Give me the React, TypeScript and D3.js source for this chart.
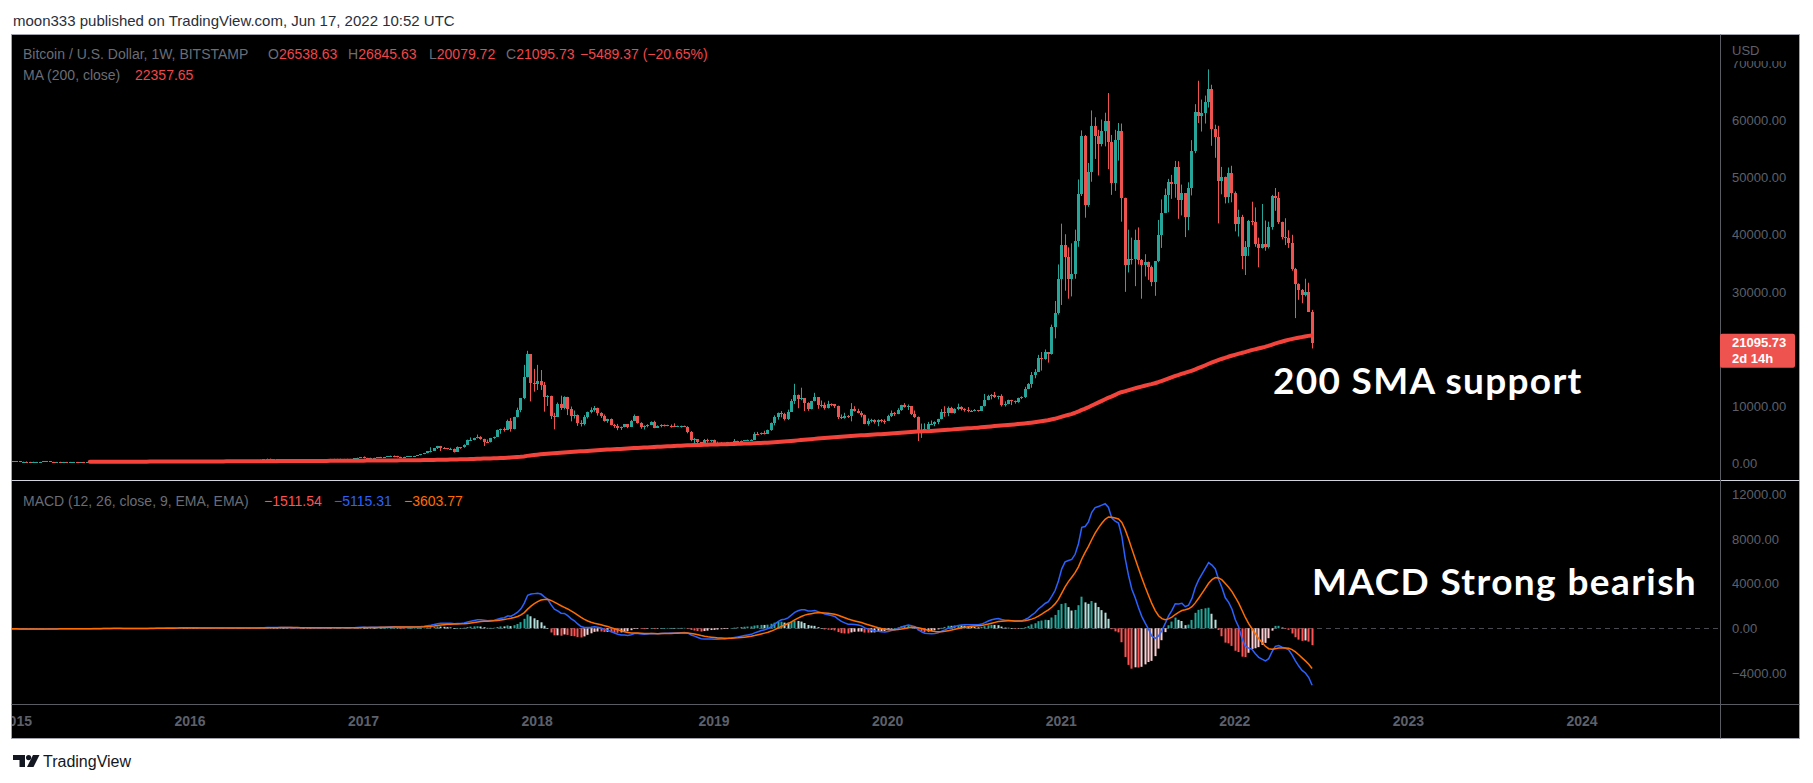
import React from 'react';
import * as d3 from 'd3';

// ---------------- DATA ----------------
// Weekly bars (Monday-start), BITSTAMP BTCUSD. First visible bar: 2014-12-22
const startDate = Date.UTC(2014, 11, 22);

// Weekly closes before the visible range (2011-08-15 .. 2014-12-15), used for MA(200) / MACD warm-up
const priorCloses = [
  // 2011
  11.0, 9.0, 8.2, 7.0, 5.9, 5.4, 5.1, 4.9, 4.1, 3.4, 3.2, 3.2, 3.0, 2.4, 2.5, 3.0, 3.0, 3.3, 3.9, 4.7,
  // 2012
  6.6, 6.6, 6.3, 5.6, 5.8, 5.7, 4.5, 4.7, 4.9, 4.9, 5.3, 4.7, 4.8, 4.9, 4.9, 5.1, 5.1, 5.0, 5.0, 5.0, 5.1, 5.2,
  5.4, 5.7, 6.3, 6.6, 6.8, 7.2, 8.8, 8.9, 9.4, 11.0, 11.8, 10.3, 10.6, 11.0, 11.7, 12.3, 12.4,
  12.1, 11.8, 11.8, 10.9, 10.8, 10.9, 11.2, 12.3, 12.5, 13.0, 13.5, 13.4, 13.4, 13.5,
  // 2013
  14.2, 17.0, 18.7, 20.4, 23.5, 26.8, 29.9, 33.5, 46, 47, 72, 93, 143, 90, 119, 128, 112,
  115, 117, 123, 129, 118, 102, 107, 97, 77, 96, 92, 95, 106, 105, 110, 122, 130,
  126, 126, 124, 127, 134, 127, 141, 186, 206, 325, 440, 800, 1050, 1000, 850, 690, 720, 800,
  // 2014
  900, 860, 850, 800, 690, 620, 580, 560, 630, 630, 590, 500, 450, 440, 500, 440, 450,
  440, 450, 520, 580, 640, 600, 590, 630, 630, 630, 620, 620, 590, 590, 520, 500, 510,
  480, 480, 410, 400, 380, 330, 390, 390, 360, 340, 380, 380, 370, 375, 350, 320,
];

const closes = [
  // 2014 (Dec 22, Dec 29)
  317, 274,
  // 2015
  267, 210, 254, 226, 222, 234, 236, 256, 270, 283, 260, 248, 253, 222, 223, 219, 236,
  242, 234, 238, 223, 233, 232, 245, 250, 271, 310, 274, 290, 281, 262, 257, 228, 230, 239,
  231, 231, 236, 239, 262, 270, 290, 325, 373, 330, 326, 370, 389, 465, 440, 422, 431,
  // 2016
  431, 381, 390, 372, 374, 404, 437, 435, 411, 413, 410, 416, 420, 425, 428, 457, 450,
  461, 455, 443, 527, 580, 680, 760, 625, 675, 650, 665, 655, 625, 590, 568, 580, 573, 605,
  607, 607, 602, 611, 615, 638, 656, 700, 703, 702, 730, 732, 765, 775, 790, 905, 995,
  // 2017
  900, 820, 920, 920, 1015, 1000, 1055, 1150, 1270, 1230, 970, 960, 1085, 1180, 1180, 1235, 1345,
  1560, 1740, 2050, 2180, 2550, 2950, 2650, 2590, 2500, 2520, 1990, 2760, 2730, 3230,
  4060, 4100, 4350, 4570, 4200, 3700, 3600, 4390, 4610, 5700, 6010, 5750, 7370,
  5950, 8050, 9350, 11350, 15000, 19100, 14000, 13880,
  // 2018
  14300, 13600, 11600, 11700, 8200, 8100, 10400, 9600, 11500, 9500, 8200, 8500, 6950,
  6900, 8100, 8900, 9300, 9650, 8700, 8200, 7350, 7650, 6720, 6450, 6150, 6380,
  6750, 6350, 7400, 8200, 7000, 6300, 6400, 6700, 7200, 6200, 6500, 6700, 6600,
  6550, 6450, 6400, 6420, 6420, 6350, 5500, 3950, 4150, 3600, 3250, 3950, 3820, 4030,
  // 2019
  3500, 3530, 3530, 3410, 3620, 3670, 3850, 3820, 3920, 3990, 3990, 4100,
  5150, 5050, 5300, 5150, 5750, 7000, 8050, 8700, 8550, 7700, 8950, 10850, 11900,
  11250, 11350, 10550, 9550, 10800, 11500, 10200, 10150, 9600, 10400, 10350, 10000, 8050, 7880,
  8300, 8200, 9550, 9200, 8800, 8500, 6900, 7400, 7500, 7100, 7500, 7380, 7350,
  // 2020
  8180, 8700, 8600, 9350, 10150, 9900, 9950, 8550, 8050, 5350, 5820, 5900, 6800,
  6900, 7100, 7700, 8900, 8750, 9650, 8750, 9450, 9750, 9400, 9300, 9100, 9080,
  9250, 9170, 9950, 11100, 11700, 11900, 11650, 11700, 10250, 10350, 11080, 10780, 10680,
  11380, 11500, 13030, 13770, 15480, 15960, 18400, 18170, 19370, 19150, 23860, 26290, 32200,
  // 2021
  38200, 36100, 32300, 33100, 38900, 47150, 57400, 45200, 50950, 59050, 57300, 55900, 58200,
  60000, 56200, 49100, 56600, 58250, 46400, 34700, 35700, 35800, 39100, 35600, 34700, 35300,
  34300, 31800, 35400, 39900, 43800, 47000, 49300, 48900, 51800, 46100, 47300, 43200, 48200,
  54700, 61500, 60900, 61300, 63300, 65500, 58600, 57200, 49400, 50100, 46700, 50800, 47300,
  // 2022
  41900, 43100, 36300, 37900, 42400, 42200, 38300, 37700, 38400, 37800, 41300, 46800, 46400,
  42200, 39700, 39450, 38500, 34000, 31300, 30300, 29450, 29900, 26538.63, 21095.73,
];

const highs = [
  335, 320,
  // 2015
  298, 272, 260, 314, 245, 267, 247, 262, 298, 297, 297, 268, 260, 260, 227, 237, 243,
  246, 246, 242, 241, 237, 236, 254, 257, 274, 318, 310, 292, 297, 285, 268, 262, 235, 240,
  244, 234, 239, 242, 263, 275, 292, 335, 500, 390, 340, 372, 400, 470, 470, 448, 440,
  // 2016
  460, 448, 410, 395, 394, 409, 445, 442, 440, 418, 420, 418, 425, 427, 431, 462, 468,
  466, 462, 457, 535, 590, 690, 775, 768, 697, 685, 675, 680, 665, 625, 595, 585, 585, 612,
  630, 612, 610, 615, 619, 642, 663, 720, 742, 738, 755, 745, 775, 782, 800, 935, 1030,
  // 2017
  1150, 910, 930, 925, 1035, 1075, 1065, 1190, 1290, 1320, 1260, 1100, 1100, 1210, 1215, 1245, 1350,
  1580, 1780, 2080, 2760, 2580, 3000, 3000, 2790, 2560, 2670, 2540, 2910, 2800, 3280,
  4100, 4480, 4420, 4980, 4700, 4250, 4100, 4400, 4630, 5850, 6020, 6240, 7600,
  7880, 8100, 9700, 11400, 17200, 19666, 19100, 16500,
  // 2018
  17200, 16300, 14200, 11900, 11800, 8800, 10600, 11800, 11700, 11600, 9900, 9200, 8500,
  7500, 8400, 9000, 9750, 9990, 9700, 8900, 8500, 7750, 7800, 6850, 6850, 6400,
  6800, 6800, 7550, 8500, 8200, 7150, 6600, 6800, 7300, 7400, 6600, 6800, 6750,
  6700, 6750, 6950, 6550, 6550, 6550, 6450, 5600, 4400, 4200, 3650, 4200, 4250, 4050,
  // 2019
  4100, 3750, 3650, 3550, 3700, 3700, 4200, 3900, 3950, 4000, 4100, 4150,
  5400, 5450, 5350, 5650, 5850, 7100, 8350, 8850, 9100, 8800, 9350, 11200, 13880,
  12000, 13200, 11350, 10650, 10900, 12300, 11500, 10950, 10600, 10900, 10450, 10300, 10050, 8500,
  8800, 8400, 10500, 9950, 9500, 9100, 8500, 7800, 7750, 7650, 7650, 7700, 7650,
  // 2020
  8450, 9200, 8950, 9600, 10200, 10500, 10250, 9950, 9200, 8150, 6900, 6950, 7200,
  7450, 7300, 7750, 9450, 9950, 9900, 9850, 9600, 10400, 9950, 9600, 9800, 9300,
  9450, 9300, 9950, 12100, 11950, 12100, 12450, 11800, 12050, 10800, 11100, 11000, 10950,
  11450, 11700, 13350, 14000, 15950, 16450, 18950, 19450, 19900, 19400, 24250, 28400, 34800,
  // 2021
  41950, 40100, 37800, 38500, 40900, 49700, 58300, 57500, 52600, 61800, 60600, 58400, 60200,
  61400, 64850, 57500, 58400, 59600, 59500, 46500, 40900, 39500, 40900, 41300, 35750, 36600,
  35100, 34600, 35400, 42600, 46200, 48100, 49800, 50500, 52950, 52900, 48800, 47300, 49200,
  56600, 62900, 67000, 63700, 64400, 69000, 66300, 59300, 59100, 51900, 50200, 51800, 52100,
  // 2022
  47600, 44400, 43500, 38900, 42600, 45800, 44800, 39500, 45400, 42500, 42300, 47000, 48200,
  47500, 42300, 42900, 40800, 40000, 34200, 31500, 30500, 32300, 31600, 26845.63,
];

const lows = [
  312, 265,
  // 2015
  262, 152, 200, 215, 211, 215, 228, 233, 254, 268, 255, 236, 237, 218, 212, 215, 217,
  228, 232, 233, 222, 222, 227, 230, 240, 250, 265, 270, 272, 278, 258, 255, 162, 195, 225,
  226, 226, 225, 234, 236, 245, 265, 283, 310, 290, 310, 318, 355, 388, 430, 406, 415,
  // 2016
  425, 360, 365, 365, 364, 373, 402, 400, 400, 404, 406, 409, 410, 416, 423, 428, 442,
  443, 448, 438, 440, 525, 572, 660, 546, 610, 610, 647, 645, 620, 480, 565, 567, 565, 566,
  600, 602, 590, 600, 608, 614, 630, 650, 680, 690, 700, 722, 727, 755, 765, 790, 898,
  // 2017
  800, 745, 815, 880, 910, 940, 990, 1045, 1140, 1000, 960, 890, 930, 1060, 1150, 1170, 1235,
  1340, 1550, 1700, 1850, 2100, 2450, 2100, 2490, 2380, 2400, 1830, 1990, 2480, 2670,
  3230, 3970, 3980, 4300, 4080, 2980, 3500, 3700, 4230, 4600, 5120, 5500, 6050,
  5500, 5900, 8000, 8900, 11200, 15000, 10800, 12500,
  // 2018
  12800, 12800, 9000, 10000, 7700, 5900, 8100, 9300, 9400, 8400, 7300, 7800, 6500,
  6400, 6600, 7800, 8700, 9000, 8300, 7900, 7250, 7050, 6600, 6150, 5750, 5800,
  6250, 6100, 6300, 7350, 6900, 6000, 5880, 6250, 6650, 6100, 6150, 6250, 6400,
  6450, 6200, 6350, 6350, 6200, 6300, 5200, 3800, 3500, 3350, 3150, 3250, 3550, 3650,
  // 2019
  3500, 3450, 3450, 3360, 3350, 3550, 3650, 3700, 3700, 3840, 3900, 3930,
  4100, 4900, 4950, 5000, 5150, 5650, 6600, 7600, 8000, 7450, 7550, 8950, 10350,
  9600, 11000, 9100, 9150, 9400, 10800, 9500, 9750, 9350, 9550, 9950, 9650, 7700, 7700,
  7750, 7900, 7300, 9000, 8700, 8000, 6800, 6550, 7100, 6900, 6450, 7100, 6850,
  // 2020
  7350, 8050, 8250, 8550, 9150, 9700, 9300, 8400, 7900, 3850, 4400, 5700, 5850,
  6750, 6450, 6800, 7650, 8100, 8200, 8750, 8650, 9250, 9200, 9000, 8900, 8950,
  9050, 9000, 9150, 9900, 11000, 11150, 11400, 11150, 9900, 9900, 10300, 10150, 10400,
  10550, 11200, 11400, 12950, 13200, 14850, 15950, 16200, 18100, 17600, 19000, 21850, 26000,
  // 2021
  27700, 30200, 28800, 29200, 32300, 37900, 46800, 43000, 44900, 49300, 53300, 50400, 55500,
  55500, 51500, 47000, 47700, 53000, 42300, 30000, 33400, 34800, 31000, 34800, 28800, 32700,
  32100, 31000, 29300, 35200, 37700, 43800, 43950, 46300, 46500, 42800, 43400, 39600, 40800,
  46900, 54300, 59600, 58100, 59500, 62300, 55600, 53500, 42000, 47100, 45500, 45600, 45700,
  // 2022
  40600, 39700, 34000, 32950, 36300, 41700, 37900, 34300, 37600, 37200, 37600, 40900, 44200,
  41900, 39200, 38200, 37700, 33700, 25400, 28600, 28000, 29200, 26500, 20079.72,
];

const priceTicks = [0, 10000, 20000, 30000, 40000, 50000, 60000, 70000];
const macdTicks = [-4000, 0, 4000, 8000, 12000];
const yearTicks = [2015, 2016, 2017, 2018, 2019, 2020, 2021, 2022, 2023, 2024];

const headerText = 'moon333 published on TradingView.com, Jun 17, 2022 10:52 UTC';
const symbolTitle = 'Bitcoin / U.S. Dollar, 1W, BITSTAMP';
const ohlcLegend = [
  ['O', '26538.63'],
  ['H', '26845.63'],
  ['L', '20079.72'],
  ['C', '21095.73'],
];
const changeLegend = '\u22125489.37 (\u221220.65%)';
const maLegend = ['MA (200, close)', '22357.65'];
const macdLegend = ['MACD (12, 26, close, 9, EMA, EMA)', '\u22121511.54', '\u22125115.31', '\u22123603.77'];
const countdown = '2d 14h';
const annotations = ['200 SMA support', 'MACD Strong bearish'];

// ---------------- STYLE / LAYOUT ----------------
const W = 1813;
const H = 783;
const FL = 11.5, FT = 34.5, FR = 1799.5, FB = 738.5;
const PLOT_R = 1720;
const PANE_SPLIT = 480;
const TIME_TOP = 704;
const UP = '#26A69A';
const DOWN = '#EF5350';
const MA_COL = '#F4433B';
const AXIS_TXT = '#5D606B';
const LEG_TXT = '#6A6D76';
const LEG_RED = '#F0474A';
const FONT = '"Liberation Sans", Arial, sans-serif';

function ema(src: number[], len: number): number[] {
  const a = 2 / (len + 1);
  const out: number[] = [];
  let prev = src[0];
  src.forEach((v, i) => {
    prev = i === 0 ? v : a * v + (1 - a) * prev;
    out.push(prev);
  });
  return out;
}

export default function App() {
  const all = [...priorCloses, ...closes];
  const off = priorCloses.length;
  const e12 = ema(all, 12);
  const e26 = ema(all, 26);
  const macd = all.map((_, i) => e12[i] - e26[i]);
  const signal = ema(macd, 9);
  const hist = macd.map((v, i) => v - signal[i]);
  const sma = all.map((_, i) => (i < 199 ? null : (d3.mean(all.slice(i - 199, i + 1)) as number)));

  // bar index -> x (2016-01-04 bar at 190px, 2024-01-01 at 1582px)
  const x = d3.scaleLinear().domain([54, 471]).range([190, 1582]);
  const yP = d3.scaleLinear().domain([-2980, 75197]).range([PANE_SPLIT, 34]);
  const yM = d3.scaleLinear().domain([-6789, 13211]).range([TIME_TOP, 481]);

  const idx = d3.range(closes.length);

  const maLine = d3
    .line<number>()
    .defined((i) => sma[off + i] != null)
    .x((i) => x(i))
    .y((i) => yP(sma[off + i] as number))
    .curve(d3.curveLinear)(idx);

  const macdLine = d3.line<number>().x((i) => x(i) + 0.5).y((i) => yM(macd[off + i]))(idx);
  const sigLine = d3.line<number>().x((i) => x(i) + 0.5).y((i) => yM(signal[off + i]))(idx);

  const yearIndex = (yr: number) => {
    const d = d3.utcMonday.ceil(new Date(Date.UTC(yr, 0, 1)));
    return Math.round((d.getTime() - startDate) / (7 * 864e5));
  };

  const lastClose = closes[closes.length - 1];
  const tagY = yP(lastClose);
  // the axis hides tick labels covered by the last-price tag
  const visiblePriceTicks = priceTicks.filter((t) => Math.abs(yP(t) - (tagY + 8)) > 24);

  return (
    <svg width={W} height={H} style={{ position: 'absolute', left: 0, top: 0, background: '#fff' }}>
      <defs>
        <clipPath id="clipPrice">
          <rect x={12} y={35} width={PLOT_R - 12} height={PANE_SPLIT - 35} />
        </clipPath>
        <clipPath id="clipMacd">
          <rect x={12} y={481} width={PLOT_R - 12} height={TIME_TOP - 481} />
        </clipPath>
        <clipPath id="clipTime">
          <rect x={12} y={705} width={PLOT_R - 12} height={33} />
        </clipPath>
      </defs>

      <text x={13} y={26} fontFamily={FONT} fontSize={15} fill="#2A2E39">
        {headerText}
      </text>

      <rect x={FL} y={FT} width={FR - FL} height={FB - FT} fill="#000" stroke="#A0A3AB" strokeWidth={1} />

      {/* price candles */}
      <g clipPath="url(#clipPrice)">
        {idx.map((i) => {
          const o = all[off + i - 1];
          const c = closes[i];
          const h = Math.max(highs[i], o, c);
          const l = Math.min(lows[i], o, c);
          const cx = Math.round(x(i));
          const col = c >= o ? UP : DOWN;
          const yt = Math.round(yP(Math.max(o, c)));
          const yb = Math.round(yP(Math.min(o, c)));
          return (
            <g key={i}>
              <line x1={cx + 0.5} x2={cx + 0.5} y1={yP(h)} y2={yP(l)} stroke={col} strokeWidth={1} />
              <rect x={cx - 1} y={yt} width={3} height={Math.max(1, yb - yt)} fill={col} />
            </g>
          );
        })}
        <path d={maLine || ''} fill="none" stroke={MA_COL} strokeWidth={4} strokeLinejoin="round" strokeLinecap="round" />
      </g>

      {/* macd pane */}
      <line x1={12} x2={PLOT_R} y1={Math.round(yM(0)) + 0.5} y2={Math.round(yM(0)) + 0.5} stroke="#787B86" strokeOpacity={0.6} strokeDasharray="5 4" />
      <g clipPath="url(#clipMacd)">
        {idx.map((i) => {
          const v = hist[off + i];
          const pv = hist[off + i - 1];
          const col = v >= 0 ? (pv < v ? '#26A69A' : '#B2DFDB') : pv < v ? '#FFCDD2' : '#FF5252';
          const y0 = yM(0);
          const y1 = yM(v);
          const cx = Math.round(x(i));
          return <rect key={i} x={cx - 0.5} y={Math.min(y0, y1)} width={2} height={Math.max(0.6, Math.abs(y1 - y0))} fill={col} />;
        })}
        <path d={macdLine || ''} fill="none" stroke="#2962FF" strokeWidth={1.5} />
        <path d={sigLine || ''} fill="none" stroke="#FF6D00" strokeWidth={1.5} />
      </g>

      {/* separators */}
      <line x1={FL} x2={FR} y1={PANE_SPLIT + 0.5} y2={PANE_SPLIT + 0.5} stroke="#D1D4DC" strokeWidth={1} />
      <line x1={FL} x2={FR} y1={TIME_TOP + 0.5} y2={TIME_TOP + 0.5} stroke="#5A5C63" strokeWidth={1} />
      <line x1={PLOT_R + 0.5} x2={PLOT_R + 0.5} y1={FT} y2={FB} stroke="#5A5C63" strokeWidth={1} />

      {/* price axis */}
      {visiblePriceTicks.map((t) => (
        <text key={t} x={1732} y={yP(t)} dy="0.36em" fontFamily={FONT} fontSize={13} fill={AXIS_TXT}>
          {t.toFixed(2)}
        </text>
      ))}
      <rect x={1721} y={35} width={77} height={26} fill="#000" />
      <text x={1732} y={55} fontFamily={FONT} fontSize={13} fill={AXIS_TXT}>
        USD
      </text>
      <rect x={1720} y={tagY - 9} width={75} height={34} rx={2} fill={DOWN} />
      <text x={1732} y={tagY + 4.5} fontFamily={FONT} fontSize={13} fontWeight={700} fill="#fff">
        {lastClose.toFixed(2)}
      </text>
      <text x={1732} y={tagY + 20.5} fontFamily={FONT} fontSize={13} fontWeight={700} fill="#fff">
        {countdown}
      </text>

      {/* macd axis */}
      {macdTicks.map((t) => (
        <text key={t} x={1732} y={yM(t)} dy="0.36em" fontFamily={FONT} fontSize={13} fill={AXIS_TXT}>
          {(t < 0 ? '\u2212' : '') + Math.abs(t).toFixed(2)}
        </text>
      ))}

      {/* time axis */}
      <g clipPath="url(#clipTime)">
        {yearTicks.map((yr) => (
          <text key={yr} x={x(yearIndex(yr))} y={726} textAnchor="middle" fontFamily={FONT} fontSize={14} fontWeight={700} fill={AXIS_TXT}>
            {yr}
          </text>
        ))}
      </g>

      {/* legends */}
      <g fontFamily={FONT} fontSize={14}>
        <text x={23} y={59} fill={LEG_TXT}>
          {symbolTitle}
        </text>
        {ohlcLegend.map(([k, v], j) => (
          <text key={k} x={[268, 348, 429, 506][j]} y={59}>
            <tspan fill={LEG_TXT}>{k}</tspan>
            <tspan fill={LEG_RED}>{v}</tspan>
          </text>
        ))}
        <text x={580} y={59} fill={LEG_RED}>
          {changeLegend}
        </text>
        <text x={23} y={80} fill={LEG_TXT}>
          {maLegend[0]}
        </text>
        <text x={135} y={80} fill={LEG_RED}>
          {maLegend[1]}
        </text>
        <text x={23} y={506} fill={LEG_TXT}>
          {macdLegend[0]}
        </text>
        <text x={264} y={506} fill="#FF5252">
          {macdLegend[1]}
        </text>
        <text x={334} y={506} fill="#2962FF">
          {macdLegend[2]}
        </text>
        <text x={404} y={506} fill="#FF6D00">
          {macdLegend[3]}
        </text>
      </g>

      {/* annotations */}
      <text x={1273} y={394} fontFamily="Lato, sans-serif" fontWeight={700} fontSize={37} letterSpacing={1.3} fill="#fff">
        {annotations[0]}
      </text>
      <text x={1312} y={595} fontFamily="Lato, sans-serif" fontWeight={700} fontSize={37} letterSpacing={1.4} fill="#fff">
        {annotations[1]}
      </text>

      {/* footer logo */}
      <g fill="#131722">
        <path d="M13 755 H25 V767 H19.5 V760 H13 Z" />
        <circle cx={28.6} cy={757.6} r={2.6} />
        <path d="M33 755 H39.5 L33.5 767 H27 Z" />
      </g>
      <text x={43} y={767} fontFamily={FONT} fontSize={16} fill="#131722">
        TradingView
      </text>
    </svg>
  );
}
